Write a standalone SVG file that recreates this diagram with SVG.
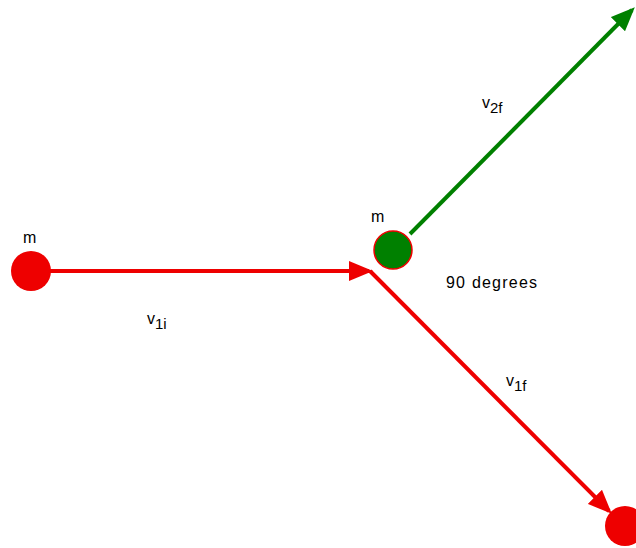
<svg xmlns="http://www.w3.org/2000/svg" width="636" height="548" viewBox="0 0 636 548">
<style>
text{font-family:"Liberation Sans",Arial,sans-serif;font-size:16px;fill:#000}
.sub{font-size:15px}
.red{stroke:#ee0000;stroke-width:4;fill:none}
.green{stroke:#008000;stroke-width:4;fill:none}
</style>
<defs>
<marker id="ar" markerWidth="6" markerHeight="5" refX="5" refY="2.5" orient="auto" markerUnits="strokeWidth"><path d="M0,0 L6,2.5 L0,5 Z" fill="#ee0000"/></marker>
<marker id="ag" markerWidth="6" markerHeight="5" refX="5" refY="2.5" orient="auto" markerUnits="strokeWidth"><path d="M0,0 L6,2.5 L0,5 Z" fill="#008000"/></marker>
</defs>
<rect width="636" height="548" fill="#fff"/>
<g id="connectors">
<line class="red" x1="50" y1="271" x2="369" y2="271" marker-end="url(#ar)"/>
<line class="red" x1="370" y1="271" x2="609" y2="511" marker-end="url(#ar)"/>
<line class="green" x1="410" y1="234" x2="632" y2="10" marker-end="url(#ag)"/>
</g>
<g id="m1">
<circle cx="31" cy="271" r="20" fill="#ee0000"/>
<text x="23" y="243">m</text>
</g>
<g id="m2">
<circle cx="393" cy="250" r="19" fill="#008000" stroke="#ee0000" stroke-width="1.5"/>
<text x="371" y="222">m</text>
</g>
<g id="m1final">
<circle cx="625" cy="526" r="20" fill="#ee0000"/>
</g>
<g id="labels">
<text x="147" y="324">v<tspan class="sub" dy="5">1i</tspan></text>
<text x="482" y="108">v<tspan class="sub" dy="5">2f</tspan></text>
<text x="506" y="386">v<tspan class="sub" dy="5">1f</tspan></text>
<text x="446" y="288" textLength="91" lengthAdjust="spacing">90 degrees</text>
</g>
</svg>
